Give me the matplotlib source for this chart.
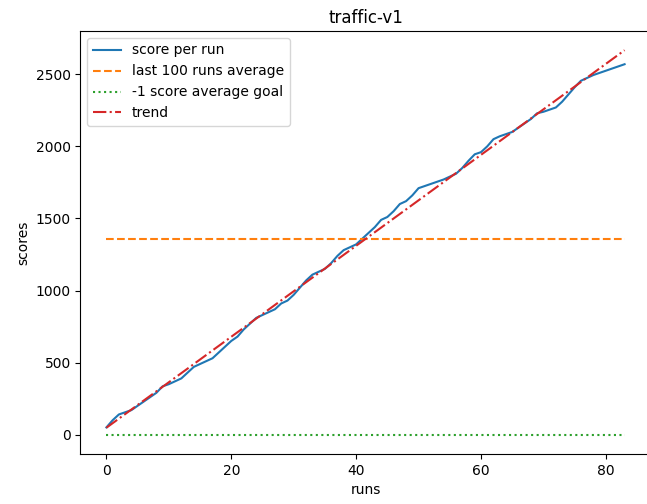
import numpy as np
import matplotlib
matplotlib.use("Agg")
import matplotlib.pyplot as plt

# scores, one per run (0..83)
scores = [50, 100, 140, 155, 170, 200, 230, 260, 290, 335,
          350, 370, 390, 430, 470, 490, 510, 530, 570, 610,
          650, 680, 730, 770, 810, 830, 850, 870, 910, 930,
          970, 1020, 1070, 1110, 1130, 1150, 1190, 1240, 1280, 1300,
          1320, 1360, 1400, 1440, 1490, 1510, 1550, 1600, 1620, 1660,
          1710, 1725, 1740, 1755, 1770, 1790, 1810, 1850, 1900, 1945,
          1960, 2000, 2050, 2070, 2085, 2100, 2130, 2160, 2190, 2230,
          2240, 2255, 2270, 2310, 2360, 2410, 2455, 2475, 2495, 2510,
          2525, 2540, 2555, 2570]
last_100_avg = 1360
goal = -1
title = "traffic-v1"

runs = np.arange(len(scores))
trend_fit = np.poly1d(np.polyfit(runs, scores, 1))

fig, ax = plt.subplots(figsize=(6.47, 5.04), dpi=100)
ax.plot(runs, scores, label="score per run")
ax.plot(runs, [last_100_avg] * len(runs), linestyle="--", label="last 100 runs average")
ax.plot(runs, [goal] * len(runs), linestyle=":", label="-1 score average goal")
ax.plot(runs, trend_fit(runs), linestyle="-.", label="trend")

ax.set_title(title)
ax.set_xlabel("runs")
ax.set_ylabel("scores")
ax.legend(loc="upper left")

# the reference screenshot cuts off the right spine
plt.subplots_adjust(left=0.1244, right=1.0054, bottom=0.0992, top=0.9385)
plt.savefig("out.png")
